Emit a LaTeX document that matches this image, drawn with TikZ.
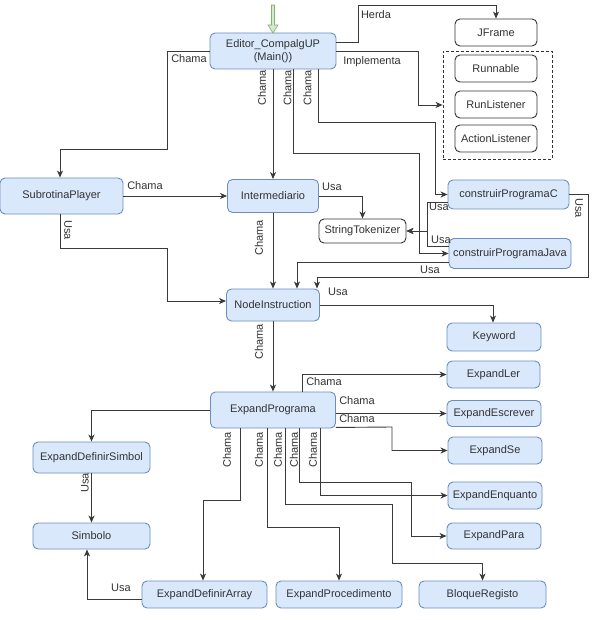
\documentclass[tikz,border=0pt]{standalone}
\usepackage{fontspec}
\setmainfont{Liberation Sans}
\usetikzlibrary{arrows.meta}
\definecolor{boxfill}{HTML}{DAE8FC}
\definecolor{boxline}{HTML}{6C8EBF}
\definecolor{ink}{HTML}{333333}
\definecolor{wire}{HTML}{3A3A3A}
\definecolor{leaffill}{HTML}{D5E8D4}
\definecolor{leafline}{HTML}{82B366}
\tikzset{
  cls/.style={draw=boxline, fill=boxfill, rounded corners=5pt, line width=0.9pt,
    inner sep=0pt, text=ink, font=\fontsize{11}{13}\selectfont, align=center},
  ext/.style={draw=ink, fill=white, rounded corners=5pt, line width=0.9pt,
    inner sep=0pt, text=ink, font=\fontsize{11}{13}\selectfont},
  link/.style={draw=wire, line width=0.9pt, -{Stealth[length=7pt,width=6pt,inset=2pt]}},
  lbl/.style={text=ink, font=\fontsize{11}{13}\selectfont, inner sep=0pt},
  vlbl/.style={lbl, rotate=90},
  dlbl/.style={lbl, rotate=-90},
}
\begin{document}
\begin{tikzpicture}[x=1pt, y=-1pt]
\useasboundingbox[fill=white] (0,0) rectangle (595,620);

% classes
\node[cls, minimum width=126pt, minimum height=36pt] (main) at (273,51) {Editor\_CompalgUP\\(Main())};
\node[cls, minimum width=123pt, minimum height=36pt] (subr) at (61.5,196) {SubrotinaPlayer};
\node[cls, minimum width=91pt, minimum height=33pt] (inter) at (273,196) {Intermediario};
\node[ext, minimum width=87pt, minimum height=24pt] (strtok) at (362.5,231) {StringTokenizer};
\node[cls, minimum width=121pt, minimum height=29pt] (cpc) at (508.5,194.5) {construirProgramaC};
\node[cls, minimum width=122pt, minimum height=30pt] (cpj) at (510,253.5) {construirProgramaJava};
\node[cls, minimum width=93pt, minimum height=32pt] (nodeinst) at (273,305) {NodeInstruction};
\node[cls, minimum width=94pt, minimum height=28pt] (keyword) at (494,337) {Keyword};
\node[cls, minimum width=93pt, minimum height=27pt] (expler) at (493.5,374.5) {ExpandLer};
\node[cls, minimum width=94pt, minimum height=26pt] (expesc) at (494,413.5) {ExpandEscrever};
\node[cls, minimum width=94pt, minimum height=27pt] (expse) at (495,450.5) {ExpandSe};
\node[cls, minimum width=125pt, minimum height=36pt] (expprog) at (273,410) {ExpandPrograma};
\node[cls, minimum width=94pt, minimum height=27pt] (expenq) at (495,495.5) {ExpandEnquanto};
\node[cls, minimum width=94pt, minimum height=26pt] (exppara) at (494,536) {ExpandPara};
\node[cls, minimum width=127pt, minimum height=27pt] (bloque) at (482.5,594.5) {BloqueRegisto};
\node[cls, minimum width=126pt, minimum height=27pt] (expproc) at (339,594.5) {ExpandProcedimento};
\node[cls, minimum width=125pt, minimum height=27pt] (expdefarr) at (204.5,594.5) {ExpandDefinirArray};
\node[cls, minimum width=117pt, minimum height=31pt] (expdefsym) at (91.5,457.5) {ExpandDefinirSimbol};
\node[cls, minimum width=117pt, minimum height=26pt] (simbolo) at (91.5,536) {Simbolo};

% external library types
\node[ext, minimum width=82pt, minimum height=27pt] (jframe) at (496,32.5) {JFrame};
\node[draw=ink, dash pattern=on 3pt off 2pt, line width=0.8pt, minimum width=109pt,
  minimum height=108pt, inner sep=0pt] (ifaces) at (497.5,105) {};
\node[ext, minimum width=82pt, minimum height=27pt] (runnable) at (496,68.5) {Runnable};
\node[ext, minimum width=82pt, minimum height=27pt] (runlis) at (496,104.5) {RunListener};
\node[ext, minimum width=82pt, minimum height=27pt] (actlis) at (496,138.5) {ActionListener};

% entry point marker
\coordinate (entry) at (273,5);
\fill[leaffill, draw=leafline, line width=0.6pt]
  (271.5,5) -- (274.5,5) -- (274.5,25) -- (278,25) -- (273,33) -- (268,25) -- (271.5,25) -- cycle;

% Editor_CompalgUP
\draw[link] ([yshift=9pt]main.east) -- (358,42) -- (358,5) -| (jframe.north);
\node[lbl] at (376,15) {Herda};
\draw[link] (main.east) -- (418,51) |- (ifaces.west);
\node[lbl] at (372,62) {Implementa};
\draw[link] (main.west) -- (167,51) -- (167,149) -| ([xshift=-1.5pt]subr.north);
\node[lbl] at (189,59) {Chama};
\draw[link] (main.south) -- (inter.north);
\node[vlbl] at (262,88) {Chama};
\draw[link] ([xshift=20pt]main.south) -- (293,153) -- (419,153) |- (cpj.west);
\node[vlbl] at (287.5,88) {Chama};
\draw[link] ([xshift=45pt]main.south) -- (318,122) -- (435,122) |- (cpc.west);
\node[vlbl] at (307.5,88) {Chama};

% SubrotinaPlayer
\draw[link] (subr.east) -- (inter.west);
\node[lbl] at (145,186) {Chama};
\draw[link] ([xshift=-1.5pt]subr.south) -- (60,248) -- (167,248) |- ([yshift=4pt]nodeinst.west);
\node[dlbl] at (68,230) {Usa};

% Intermediario
\draw[link] (inter.south) -- (nodeinst.north);
\node[vlbl] at (259,238) {Chama};
\draw[link] (inter.east) -| (strtok.north);
\node[lbl] at (332,187) {Usa};

% construirPrograma C / Java
\draw[link] ([yshift=-8pt]cpc.west) -- (427,202.5) |- (strtok.east);
\node[lbl] at (439,207) {Usa};
\draw[link] ([yshift=7pt]cpj.west) -- (427,246.5) |- (strtok.east);
\node[lbl] at (441,240) {Usa};
\draw[link] (cpc.east) -- (588,194.5) -- (588,277) -| ([xshift=44pt]nodeinst.north);
\node[dlbl] at (579,208) {Usa};
\draw[link] ([yshift=-8.5pt]cpj.west) -| ([xshift=24pt]nodeinst.north);
\node[lbl] at (430,270) {Usa};

% NodeInstruction
\draw[link] (nodeinst.east) -| ([xshift=-1pt]keyword.north);
\node[lbl] at (338,292) {Usa};
\draw[link] (nodeinst.south) -- (expprog.north);
\node[vlbl] at (259,342) {Chama};

% ExpandPrograma
\draw[link] ([xshift=29pt]expprog.north) |- (expler.west);
\node[lbl] at (324,382) {Chama};
\draw[link] ([yshift=-3.5pt]expprog.east) -- (expesc.west);
\node[lbl] at (357,401) {Chama};
\draw[link] ([yshift=1pt]expprog.south east) -- (392,427) |- (expse.west);
\node[lbl] at (357,419) {Chama};
\draw[link] (expprog.west) -| (expdefsym.north);
\draw[link] ([xshift=-33pt]expprog.south) -- (240,500) -| ([xshift=-1.5pt]expdefarr.north);
\node[vlbl] at (227,450) {Chama};
\draw[link] ([xshift=-6pt]expprog.south) -- (267,527) -| (expproc.north);
\node[vlbl] at (259,450) {Chama};
\draw[link] ([xshift=12pt]expprog.south) -- (285,504) -- (392,504) -- (392,563) -| (bloque.north);
\node[vlbl] at (278,450) {Chama};
\draw[link] ([xshift=26pt]expprog.south) -- (299,482) -- (411,482) |- (exppara.west);
\node[vlbl] at (294,450) {Chama};
\draw[link] ([xshift=47pt]expprog.south) |- (expenq.west);
\node[vlbl] at (313,450) {Chama};

% Simbolo
\draw[link] (expdefsym.south) -- (simbolo.north);
\node[vlbl] at (85,483) {Usa};
\draw[link] ([yshift=-4.5pt]expdefarr.west) -| ([xshift=-4.5pt]simbolo.south);
\node[lbl] at (121,588) {Usa};
\end{tikzpicture}
\end{document}
